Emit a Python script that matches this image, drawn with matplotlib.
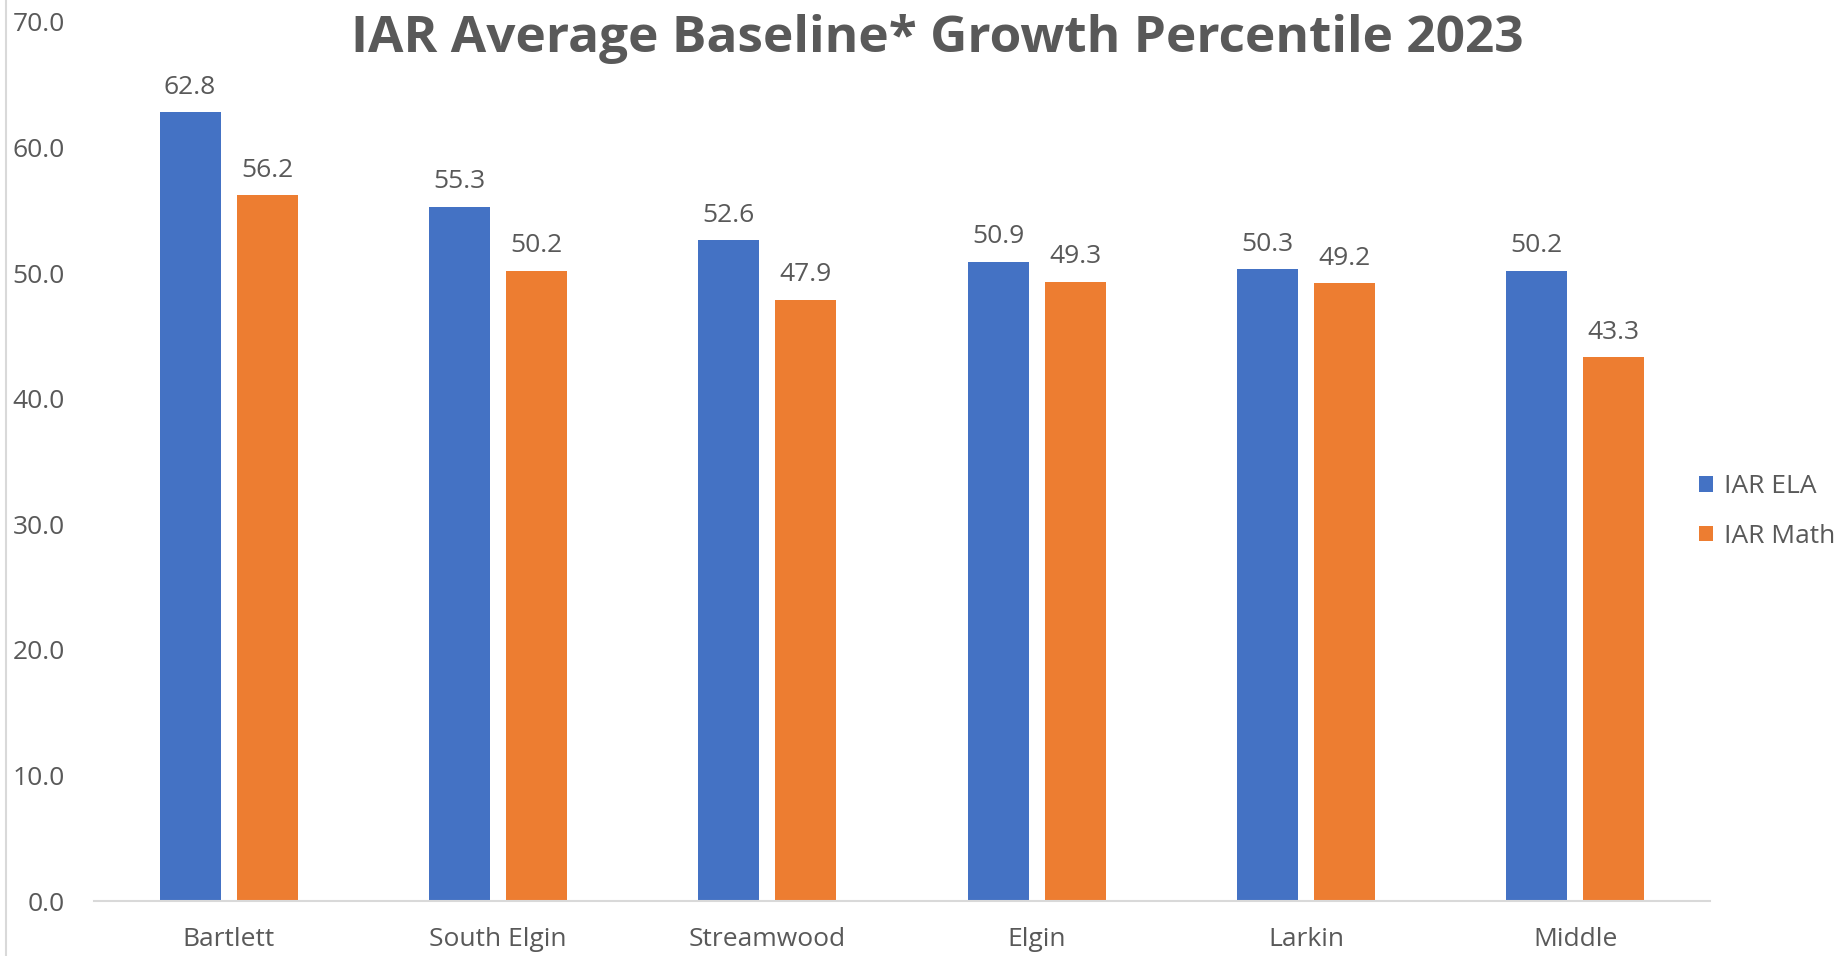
import numpy as np
import matplotlib
matplotlib.use("Agg")
import matplotlib.pyplot as plt
from matplotlib.lines import Line2D

schools = ["Bartlett", "South Elgin", "Streamwood", "Elgin", "Larkin", "Middle"]
ela = [62.8, 55.3, 52.6, 50.9, 50.3, 50.2]
math = [56.2, 50.2, 47.9, 49.3, 49.2, 43.3]
series_names = ["IAR ELA", "IAR Math"]
colors = ["#4472C4", "#ED7D31"]
text_color = "#595959"

plt.rcParams['font.family'] = ['Open Sans', 'DejaVu Sans']

fig = plt.figure(figsize=(18.46, 9.56), dpi=100)
ax = fig.add_axes([0.0509, 0.0575, 0.8754, 0.9195])

x = np.arange(len(schools))
width = 0.227
gap = 0.059
off = width / 2 + gap / 2

bars1 = ax.bar(x - off, ela, width, color=colors[0], label=series_names[0])
bars2 = ax.bar(x + off, math, width, color=colors[1], label=series_names[1])

# value labels above each bar
for bars, vals in [(bars1, ela), (bars2, math)]:
    for b, v in zip(bars, vals):
        ax.annotate(f"{v:.1f}", (b.get_x() + b.get_width() / 2, v),
                    xytext=(0, 9), textcoords="offset points",
                    ha="center", va="bottom", fontsize=19, color=text_color)

ax.set_xlim(-0.5, len(schools) - 0.5)
ax.set_ylim(0, 70)
ax.set_yticks(np.arange(0, 71, 10))
ax.set_yticklabels([f"{t:.1f}" for t in np.arange(0, 71, 10)])
ax.set_xticks(x)
ax.set_xticklabels(schools)
ax.tick_params(axis="both", length=0, labelsize=19, colors=text_color)
ax.tick_params(axis="y", pad=21)
ax.tick_params(axis="x", pad=19)

for s in ["top", "right", "left"]:
    ax.spines[s].set_visible(False)
ax.spines["bottom"].set_color("#D9D9D9")
ax.spines["bottom"].set_linewidth(1.5)

fig.text(0.5076, 1 - 52 / 956, "IAR Average Baseline* Growth Percentile 2023",
         ha="center", va="baseline", fontsize=37, fontweight="bold", color=text_color)

# chart frame edge on the left
fig.add_artist(Line2D([0.0033, 0.0033], [0.0, 1.0], transform=fig.transFigure,
                      color="#D9D9D9", linewidth=1.5))

leg = ax.legend(loc="center left", bbox_to_anchor=(0.993, 0.443), frameon=False,
                fontsize=19, handlelength=0.53, handleheight=0.53,
                handletextpad=0.45, labelspacing=0.94, borderpad=0, borderaxespad=0)
for t in leg.get_texts():
    t.set_color(text_color)

fig.savefig("out.png", dpi=100)
